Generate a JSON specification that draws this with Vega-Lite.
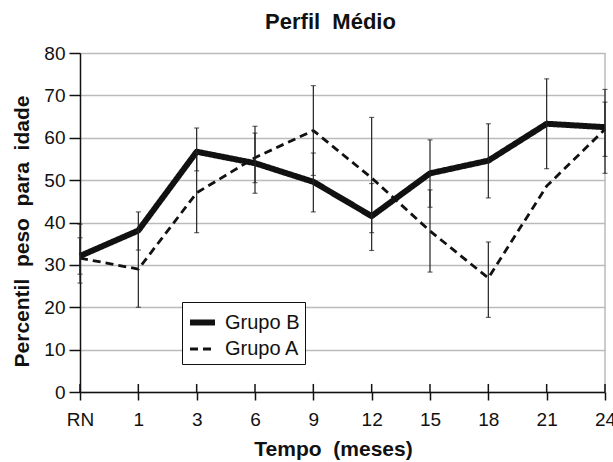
{
  "$schema": "https://vega.github.io/schema/vega-lite/v6.json",
  "autosize": {"type": "none"},
  "width": 525,
  "height": 339,
  "padding": {"left": 80, "top": 53, "right": 8, "bottom": 70},
  "background": "white",
  "title": {
    "text": "Perfil \u00a0Médio",
    "font": "Liberation Sans, Arial",
    "fontSize": 22,
    "fontWeight": "bold",
    "color": "#111",
    "anchor": "middle",
    "dx": -12,
    "offset": 10
  },
  "config": {
    "view": {"stroke": null},
    "axis": {
      "labelFont": "Liberation Sans, Arial",
      "labelFontSize": 19,
      "labelColor": "#111",
      "titleFont": "Liberation Sans, Arial",
      "titleFontSize": 21,
      "titleFontWeight": "bold",
      "titleColor": "#111",
      "domainColor": "#111",
      "domainWidth": 1.5,
      "tickColor": "#111",
      "tickWidth": 1.5,
      "tickSize": 8
    }
  },
  "data": {
    "values": [
      {"tempo": "RN", "grupo": "Grupo B", "media": 32.1, "lo": 27.8, "hi": 36.4},
      {"tempo": "1", "grupo": "Grupo B", "media": 38.1, "lo": 33.5, "hi": 42.5},
      {"tempo": "3", "grupo": "Grupo B", "media": 56.7, "lo": 52.2, "hi": 62.3},
      {"tempo": "6", "grupo": "Grupo B", "media": 54.0, "lo": 46.9, "hi": 61.1},
      {"tempo": "9", "grupo": "Grupo B", "media": 49.6, "lo": 42.5, "hi": 56.4},
      {"tempo": "12", "grupo": "Grupo B", "media": 41.5, "lo": 33.4, "hi": 49.2},
      {"tempo": "15", "grupo": "Grupo B", "media": 51.6, "lo": 43.6, "hi": 59.5},
      {"tempo": "18", "grupo": "Grupo B", "media": 54.6, "lo": 45.8, "hi": 63.3},
      {"tempo": "21", "grupo": "Grupo B", "media": 63.3, "lo": 52.7, "hi": 73.9},
      {"tempo": "24", "grupo": "Grupo B", "media": 62.5, "lo": 51.6, "hi": 71.4},
      {"tempo": "RN", "grupo": "Grupo A", "media": 31.6, "lo": 25.7, "hi": 39.6},
      {"tempo": "1", "grupo": "Grupo A", "media": 29.0, "lo": 20.0, "hi": 38.0},
      {"tempo": "3", "grupo": "Grupo A", "media": 47.0, "lo": 37.6, "hi": 56.4},
      {"tempo": "6", "grupo": "Grupo A", "media": 55.3, "lo": 49.4, "hi": 62.7},
      {"tempo": "9", "grupo": "Grupo A", "media": 61.7, "lo": 51.1, "hi": 72.3},
      {"tempo": "12", "grupo": "Grupo A", "media": 50.5, "lo": 37.6, "hi": 64.8},
      {"tempo": "15", "grupo": "Grupo A", "media": 38.0, "lo": 28.3, "hi": 47.7},
      {"tempo": "18", "grupo": "Grupo A", "media": 26.9, "lo": 17.6, "hi": 35.4},
      {"tempo": "21", "grupo": "Grupo A", "media": 48.6, "lo": null, "hi": null},
      {"tempo": "24", "grupo": "Grupo A", "media": 62.0, "lo": 55.6, "hi": 68.4}
    ]
  },
  "layer": [
    {
      "mark": {"type": "rule", "color": "#bbbbbb", "strokeWidth": 1.5},
      "transform": [{"filter": "datum.tempo === '24' && datum.grupo === 'Grupo B'"}],
      "encoding": {
        "x": {
          "field": "tempo",
          "type": "ordinal",
          "sort": ["RN", "1", "3", "6", "9", "12", "15", "18", "21", "24"],
          "scale": {"type": "point", "padding": 0},
          "axis": {"title": "Tempo \u00a0(meses)", "labelAngle": 0, "labelPadding": 10, "titlePadding": 9, "titleX": 253, "grid": false}
        }
      }
    },
    {
      "mark": {"type": "rule", "color": "#111", "strokeWidth": 1.5},
      "transform": [{"filter": "datum.grupo === 'Grupo B'"}],
      "encoding": {
        "x": {"field": "tempo", "type": "ordinal", "sort": ["RN", "1", "3", "6", "9", "12", "15", "18", "21", "24"]},
        "y": {"datum": 0, "type": "quantitative"},
        "y2": {"datum": 1.9}
      }
    },
    {
      "mark": {"type": "line", "color": "#111", "strokeCap": "butt", "strokeJoin": "round"},
      "encoding": {
        "x": {
          "field": "tempo",
          "type": "ordinal",
          "sort": ["RN", "1", "3", "6", "9", "12", "15", "18", "21", "24"]
        },
        "y": {
          "field": "media",
          "type": "quantitative",
          "scale": {"domain": [0, 80], "nice": false},
          "axis": {
            "title": "Percentil \u00a0peso \u00a0para \u00a0idade",
            "values": [0, 10, 20, 30, 40, 50, 60, 70, 80],
            "grid": true,
            "gridColor": "#bbbbbb",
            "gridWidth": 1.5,
            "tickSize": 11,
            "labelPadding": 4,
            "titlePadding": 11,
            "titleY": 178
          }
        },
        "strokeDash": {
          "field": "grupo",
          "type": "nominal",
          "scale": {"domain": ["Grupo B", "Grupo A"], "range": [[1, 0], [8, 5]]},
          "legend": {
            "title": null,
            "orient": "none",
            "legendX": 102,
            "legendY": 249,
            "symbolType": "stroke",
            "symbolSize": 625,
            "symbolStrokeColor": "#111",
            "labelFont": "Liberation Sans, Arial",
            "labelFontSize": 20,
            "labelColor": "#111",
            "labelOffset": 7,
            "strokeColor": "#111",
            "fillColor": "white",
            "padding": 5,
            "rowPadding": 0
          }
        },
        "strokeWidth": {
          "field": "grupo",
          "type": "nominal",
          "scale": {"domain": ["Grupo B", "Grupo A"], "range": [6, 2.8]},
          "legend": null
        },
        "detail": {"field": "grupo"}
      }
    },
    {
      "mark": {"type": "rule", "color": "#222", "strokeWidth": 1.2},
      "encoding": {
        "x": {"field": "tempo", "type": "ordinal", "sort": ["RN", "1", "3", "6", "9", "12", "15", "18", "21", "24"]},
        "y": {"field": "lo", "type": "quantitative"},
        "y2": {"field": "hi"}
      }
    },
    {
      "mark": {"type": "tick", "color": "#222", "size": 5, "thickness": 1.2},
      "encoding": {
        "x": {"field": "tempo", "type": "ordinal", "sort": ["RN", "1", "3", "6", "9", "12", "15", "18", "21", "24"]},
        "y": {"field": "lo", "type": "quantitative"}
      }
    },
    {
      "mark": {"type": "tick", "color": "#222", "size": 5, "thickness": 1.2},
      "encoding": {
        "x": {"field": "tempo", "type": "ordinal", "sort": ["RN", "1", "3", "6", "9", "12", "15", "18", "21", "24"]},
        "y": {"field": "hi", "type": "quantitative"}
      }
    }
  ]
}
